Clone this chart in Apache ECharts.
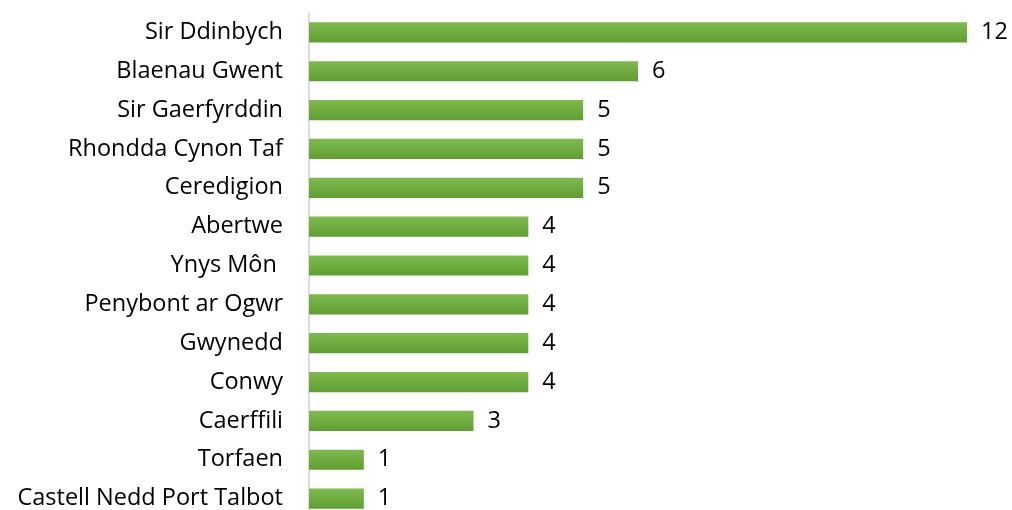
<!DOCTYPE html>
<html>
<head>
    <meta charset="utf-8" />
    <script src="https://cdn.jsdelivr.net/npm/echarts@6/dist/echarts.min.js"></script>
    <style>
        html, body { margin: 0; padding: 0; background: #fff; }
        #main { width: 1012px; height: 510px; }
    </style>
</head>
<body>
    <div id="main"></div>
    <script type="text/javascript">
        // categories, top to bottom
        var categories = ["Sir Ddinbych", "Blaenau Gwent", "Sir Gaerfyrddin", "Rhondda Cynon Taf", "Ceredigion",
            "Abertwe", "Ynys Môn ", "Penybont ar Ogwr", "Gwynedd", "Conwy", "Caerffili", "Torfaen",
            "Castell Nedd Port Talbot"];
        var values = [12, 6, 5, 5, 5, 4, 4, 4, 4, 4, 3, 1, 1];

        var chart = echarts.init(document.getElementById("main"));
        var option = {
            animation: false,
            grid: { left: 309, right: 45, top: 13, height: 505, outerBoundsMode: "none" },
            xAxis: {
                type: "value",
                min: 0,
                max: 12,
                show: false
            },
            yAxis: {
                type: "category",
                inverse: true,
                data: categories,
                axisLine: { lineStyle: { color: "#d9dde3", width: 2 } },
                axisTick: { show: false },
                axisLabel: {
                    color: "#000",
                    fontFamily: "Open Sans",
                    fontSize: 23.5,
                    margin: 26
                }
            },
            series: [{
                type: "bar",
                data: values,
                barCategoryGap: "48%",
                itemStyle: {
                    color: new echarts.graphic.LinearGradient(0, 0, 0, 1, [
                        { offset: 0, color: "#7fba4f" },
                        { offset: 1, color: "#5f9e32" }
                    ])
                },
                label: {
                    show: true,
                    position: "right",
                    distance: 14,
                    color: "#000",
                    fontFamily: "Open Sans",
                    fontSize: 23.5
                }
            }]
        };
        chart.setOption(option);
    </script>
</body>
</html>
